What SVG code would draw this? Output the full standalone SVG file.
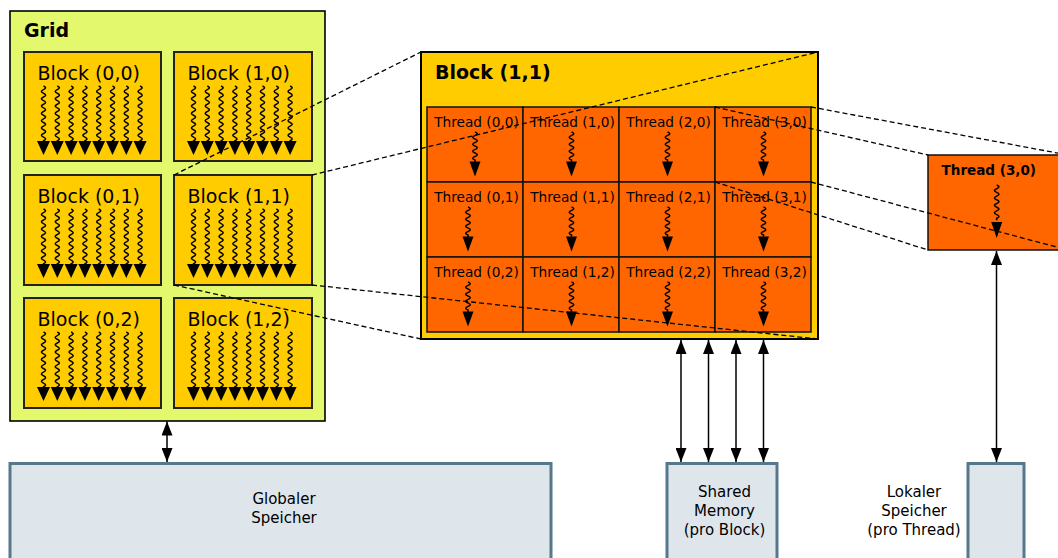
<svg xmlns="http://www.w3.org/2000/svg" xmlns:xlink="http://www.w3.org/1999/xlink" width="1058" height="558" viewBox="0 0 1058 558">
  <style>
    text { font-family: "DejaVu Sans", "Liberation Sans", sans-serif; fill: #000; }
    .title { font-weight: bold; font-size: 19px; }
    .blk { font-size: 19px; }
    .thr { font-size: 13.7px; text-anchor: middle; }
    .mem { font-size: 15px; text-anchor: middle; }
    .gridbox { fill: #e3f86c; stroke: #000; stroke-width: 1.6; }
    .block { fill: #ffcc00; stroke: #222; stroke-width: 2; }
    .bigblock { fill: #ffcc00; stroke: #000; stroke-width: 2; }
    .cell { fill: #ff6600; stroke: #111; stroke-width: 1.5; }
    .membox { fill: #dee6ec; stroke: #56788b; stroke-width: 3; }
    .wig { fill: none; stroke: #000; stroke-width: 1.5; }
    .head { fill: #000; }
    .dash { fill: none; stroke: #000; stroke-width: 1.3; stroke-dasharray: 5 3; }
    .link { fill: none; stroke: #000; stroke-width: 1.5; marker-start: url(#tip); marker-end: url(#tip); }
  </style>
  <defs>
    <marker id="tip" viewBox="0 0 14 11" refX="14" refY="5.5" markerWidth="14" markerHeight="11" markerUnits="userSpaceOnUse" orient="auto-start-reverse">
      <path d="M0,0 L14,5.5 L0,11 z" fill="#000"/>
    </marker>
    <!-- one wavy thread arrow inside a grid block -->
    <g id="bthread">
      <path class="wig" d="M0,0 q4.2,1.825 0,3.65 t0,3.65 t0,3.65 t0,3.65 t0,3.65 t0,3.65 t0,3.65 t0,3.65 t0,3.65 t0,3.65 t0,3.65 t0,3.65 t0,3.65 t0,3.65 t0,3.65 l0,2.5"/>
      <polygon class="head" points="-6.5,55 6.5,55 0,69"/>
    </g>
    <!-- eight threads per block -->
    <g id="bthreads">
      <use xlink:href="#bthread" href="#bthread" x="19.5" y="34"/>
      <use xlink:href="#bthread" href="#bthread" x="33.3" y="34"/>
      <use xlink:href="#bthread" href="#bthread" x="47.1" y="34"/>
      <use xlink:href="#bthread" href="#bthread" x="60.9" y="34"/>
      <use xlink:href="#bthread" href="#bthread" x="74.7" y="34"/>
      <use xlink:href="#bthread" href="#bthread" x="88.5" y="34"/>
      <use xlink:href="#bthread" href="#bthread" x="102.3" y="34"/>
      <use xlink:href="#bthread" href="#bthread" x="116.1" y="34"/>
    </g>
    <!-- single thread arrow inside a thread cell -->
    <g id="tthread">
      <path class="wig" d="M0,0 q4.6,1.75 0,3.5 t0,3.5 t0,3.5 t0,3.5 t0,3.5 t0,3.5 t0,3.5 t0,3.5 l0,2"/>
      <polygon class="head" points="-5.5,29.5 5.5,29.5 0,44.5"/>
    </g>
  </defs>

  <!-- Grid with its six blocks -->
  <g id="grid">
    <rect class="gridbox" x="10" y="11" width="315" height="410"/>
    <text class="title" x="24" y="37">Grid</text>
  </g>
  <g id="block-0-0">
    <rect class="block" x="24" y="52" width="137" height="109"/>
    <text class="blk" x="37.5" y="80">Block (0,0)</text>
    <use xlink:href="#bthreads" href="#bthreads" x="24" y="52"/>
  </g>
  <g id="block-1-0">
    <rect class="block" x="174" y="52" width="138" height="109"/>
    <text class="blk" x="187.5" y="80">Block (1,0)</text>
    <use xlink:href="#bthreads" href="#bthreads" x="174" y="52"/>
  </g>
  <g id="block-0-1">
    <rect class="block" x="24" y="175" width="137" height="110"/>
    <text class="blk" x="37.5" y="203">Block (0,1)</text>
    <use xlink:href="#bthreads" href="#bthreads" x="24" y="175"/>
  </g>
  <g id="block-1-1">
    <rect class="block" x="174" y="175" width="138" height="110"/>
    <text class="blk" x="187.5" y="203">Block (1,1)</text>
    <use xlink:href="#bthreads" href="#bthreads" x="174" y="175"/>
  </g>
  <g id="block-0-2">
    <rect class="block" x="24" y="298" width="137" height="110"/>
    <text class="blk" x="37.5" y="326">Block (0,2)</text>
    <use xlink:href="#bthreads" href="#bthreads" x="24" y="298"/>
  </g>
  <g id="block-1-2">
    <rect class="block" x="174" y="298" width="138" height="110"/>
    <text class="blk" x="187.5" y="326">Block (1,2)</text>
    <use xlink:href="#bthreads" href="#bthreads" x="174" y="298"/>
  </g>

  <!-- Enlarged Block (1,1) with its 4x3 threads -->
  <g id="block-detail">
    <rect class="bigblock" x="421" y="52" width="397" height="287"/>
    <text class="title" x="435" y="78.5">Block (1,1)</text>
  </g>
  <g id="thread-0-0">
    <rect class="cell" x="427" y="107" width="96" height="75"/>
    <text class="thr" x="476.5" y="127">Thread (0,0)</text>
    <use xlink:href="#tthread" href="#tthread" x="475" y="132"/>
  </g>
  <g id="thread-1-0">
    <rect class="cell" x="523" y="107" width="96" height="75"/>
    <text class="thr" x="572.5" y="127">Thread (1,0)</text>
    <use xlink:href="#tthread" href="#tthread" x="571.5" y="132"/>
  </g>
  <g id="thread-2-0">
    <rect class="cell" x="619" y="107" width="96" height="75"/>
    <text class="thr" x="668.5" y="127">Thread (2,0)</text>
    <use xlink:href="#tthread" href="#tthread" x="667.5" y="132"/>
  </g>
  <g id="thread-3-0">
    <rect class="cell" x="715" y="107" width="96" height="75"/>
    <text class="thr" x="764.5" y="127">Thread (3,0)</text>
    <use xlink:href="#tthread" href="#tthread" x="763.5" y="132"/>
  </g>
  <g id="thread-0-1">
    <rect class="cell" x="427" y="182" width="96" height="75"/>
    <text class="thr" x="476.5" y="202">Thread (0,1)</text>
    <use xlink:href="#tthread" href="#tthread" x="468" y="207"/>
  </g>
  <g id="thread-1-1">
    <rect class="cell" x="523" y="182" width="96" height="75"/>
    <text class="thr" x="572.5" y="202">Thread (1,1)</text>
    <use xlink:href="#tthread" href="#tthread" x="571.5" y="207"/>
  </g>
  <g id="thread-2-1">
    <rect class="cell" x="619" y="182" width="96" height="75"/>
    <text class="thr" x="668.5" y="202">Thread (2,1)</text>
    <use xlink:href="#tthread" href="#tthread" x="667.5" y="207"/>
  </g>
  <g id="thread-3-1">
    <rect class="cell" x="715" y="182" width="96" height="75"/>
    <text class="thr" x="764.5" y="202">Thread (3,1)</text>
    <use xlink:href="#tthread" href="#tthread" x="763.5" y="207"/>
  </g>
  <g id="thread-0-2">
    <rect class="cell" x="427" y="257" width="96" height="75"/>
    <text class="thr" x="476.5" y="277">Thread (0,2)</text>
    <use xlink:href="#tthread" href="#tthread" x="468" y="282"/>
  </g>
  <g id="thread-1-2">
    <rect class="cell" x="523" y="257" width="96" height="75"/>
    <text class="thr" x="572.5" y="277">Thread (1,2)</text>
    <use xlink:href="#tthread" href="#tthread" x="571.5" y="282"/>
  </g>
  <g id="thread-2-2">
    <rect class="cell" x="619" y="257" width="96" height="75"/>
    <text class="thr" x="668.5" y="277">Thread (2,2)</text>
    <use xlink:href="#tthread" href="#tthread" x="667.5" y="282"/>
  </g>
  <g id="thread-3-2">
    <rect class="cell" x="715" y="257" width="96" height="75"/>
    <text class="thr" x="764.5" y="277">Thread (3,2)</text>
    <use xlink:href="#tthread" href="#tthread" x="763.5" y="282"/>
  </g>

  <!-- Enlarged Thread (3,0) -->
  <g id="thread-detail">
    <rect class="cell" x="928" y="155" width="140" height="95"/>
    <text x="988.8" y="175" style="font-weight:bold;font-size:13.5px;text-anchor:middle">Thread (3,0)</text>
    <path class="wig" d="M996.7,185 q4.6,1.85 0,3.7 t0,3.7 t0,3.7 t0,3.7 t0,3.7 t0,3.7 t0,3.7 t0,3.7 t0,3.7 l0,2"/>
    <polygon class="head" points="991.2,222 1002.2,222 996.7,238"/>
  </g>

  <!-- Memory spaces -->
  <g id="global-memory">
    <rect class="membox" x="10" y="463.5" width="541" height="100"/>
    <text class="mem" x="284" y="504">Globaler</text>
    <text class="mem" x="284" y="523">Speicher</text>
  </g>
  <g id="shared-memory">
    <rect class="membox" x="667" y="463.5" width="110" height="100"/>
    <text class="mem" x="724.5" y="497">Shared</text>
    <text class="mem" x="724.5" y="516">Memory</text>
    <text class="mem" x="724.5" y="535">(pro Block)</text>
  </g>
  <g id="local-memory">
    <rect class="membox" x="968" y="463.5" width="56" height="100"/>
    <text class="mem" x="914" y="497">Lokaler</text>
    <text class="mem" x="914" y="516">Speicher</text>
    <text class="mem" x="914" y="535">(pro Thread)</text>
  </g>

  <!-- Connectors: memory access arrows and zoom guide lines -->
  <g id="connectors">
    <line class="link" x1="167" y1="421.5" x2="167" y2="462"/>
    <line class="link" x1="681" y1="340" x2="681" y2="462"/>
    <line class="link" x1="708.5" y1="340" x2="708.5" y2="462"/>
    <line class="link" x1="736" y1="340" x2="736" y2="462"/>
    <line class="link" x1="763.5" y1="340" x2="763.5" y2="462"/>
    <line class="link" x1="996.5" y1="251" x2="996.5" y2="462"/>

    <line class="dash" x1="174" y1="175" x2="421" y2="52"/>
    <line class="dash" x1="312" y1="175" x2="818" y2="52"/>
    <line class="dash" x1="174" y1="285" x2="421" y2="339"/>
    <line class="dash" x1="312" y1="285" x2="818" y2="339"/>
    <line class="dash" x1="715" y1="107" x2="928" y2="155"/>
    <line class="dash" x1="811" y1="107" x2="1068" y2="155"/>
    <line class="dash" x1="715" y1="182" x2="928" y2="250"/>
    <line class="dash" x1="811" y1="182" x2="1068" y2="250"/>
  </g>
</svg>
